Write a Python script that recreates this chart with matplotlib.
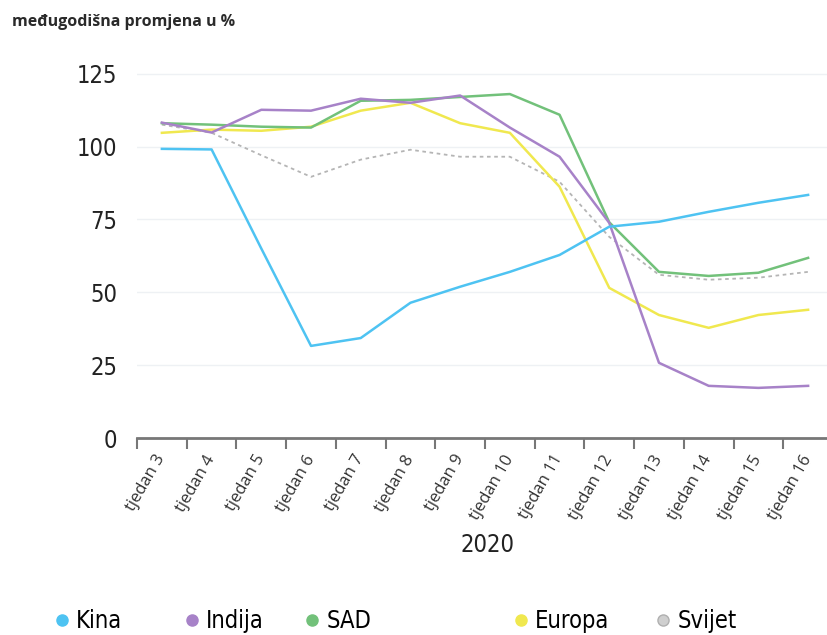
import matplotlib.pyplot as plt
from matplotlib.lines import Line2D
import numpy as np

weeks = ['tjedan 3', 'tjedan 4', 'tjedan 5', 'tjedan 6', 'tjedan 7', 'tjedan 8', 'tjedan 9',
         'tjedan 10', 'tjedan 11', 'tjedan 12', 'tjedan 13', 'tjedan 14', 'tjedan 15', 'tjedan 16']
kina = [99.2, 99.0, 65.0, 31.6, 34.3, 46.4, 51.9, 57.0, 62.8, 72.5, 74.2, 77.6, 80.7, 83.4]
indija = [108.2, 104.8, 112.6, 112.3, 116.4, 115.0, 117.5, 106.5, 96.5, 73.8, 25.8, 17.9, 17.2, 17.9]
sad = [108.0, 107.5, 106.8, 106.5, 115.7, 116.0, 117.0, 118.0, 110.9, 74.0, 57.0, 55.6, 56.7, 61.8]
europa = [104.7, 105.8, 105.4, 106.8, 112.3, 115.0, 108.0, 104.7, 86.2, 51.5, 42.2, 37.8, 42.2, 44.0]
svijet = [107.5, 104.7, 97.0, 89.6, 95.5, 98.9, 96.5, 96.5, 87.9, 69.0, 56.0, 54.3, 55.0, 57.0]
yticks = [0, 25, 50, 75, 100, 125]

c_kina, c_ind, c_sad, c_eur, c_svi = '#4ec3f2', '#a782c8', '#72c17a', '#f0e84f', '#b5b5b5'
narrow = dict(family=['DejaVu Sans'], stretch='condensed')

fig = plt.figure(figsize=(8.27, 6.35), dpi=100)
ax = fig.add_axes([0.1657, 0.3102, 0.8343, 0.583])
x = np.arange(len(weeks))

ax.plot(x, svijet, color=c_svi, lw=1.3, dashes=(2, 2))
ax.plot(x, europa, color=c_eur, lw=1.8)
ax.plot(x, sad, color=c_sad, lw=1.8)
ax.plot(x, indija, color=c_ind, lw=1.8)
ax.plot(x, kina, color=c_kina, lw=1.8)

ax.set_ylim(0, 127)
ax.set_xlim(-0.5, 13.38)
ax.set_yticks(yticks)
ax.set_yticklabels([str(v) for v in yticks], fontsize=17, color='#222222', **narrow)
ax.tick_params(axis='y', length=0, pad=14)
for v in yticks[1:]:
    ax.axhline(v, color='#eef1f4', lw=1, zorder=0)

ax.set_xticks(x)
ax.set_xticklabels(weeks, rotation=60, ha='right', va='center', rotation_mode='anchor',
                   family=['Open Sans', 'DejaVu Sans'], fontsize=12, color='#333333')
ax.tick_params(axis='x', which='major', length=0, pad=13)
ax.set_xticks(np.arange(-0.5, 13, 1), minor=True)
ax.tick_params(axis='x', which='minor', length=8, width=1.5, color='#777777')

for s in ['top', 'right', 'left']:
    ax.spines[s].set_visible(False)
ax.spines['bottom'].set_color('#777777')
ax.spines['bottom'].set_linewidth(2)

fig.text(487 / 827, 1 - 545 / 635, '2020', fontsize=17, color='#222222',
         ha='center', va='center', **narrow)
fig.text(12 / 827, 1 - 22 / 635, 'međugodišna promjena u %', family=['Open Sans', 'DejaVu Sans'],
         fontsize=11.5, fontweight='bold', color='#2a2a2a', va='center')

# legend entries placed individually
names = ['Kina', 'Indija', 'SAD', 'Europa', 'Svijet']
colors = [c_kina, c_ind, c_sad, c_eur, '#cfcfcf']
leg_x = [36, 166, 286, 495, 637]
for name, col, lx in zip(names, colors, leg_x):
    h = Line2D([], [], marker='o', ls='', markersize=8, markerfacecolor=col,
               markeredgecolor='#b0b0b0' if name == 'Svijet' else col)
    fig.legend([h], [name], loc='center left', bbox_to_anchor=(lx / 827, 1 - 621 / 635),
               frameon=False, handletextpad=0.0, borderpad=0, handlelength=1.2,
               prop=dict(size=17, **narrow))

fig.savefig('out.png', dpi=100)
